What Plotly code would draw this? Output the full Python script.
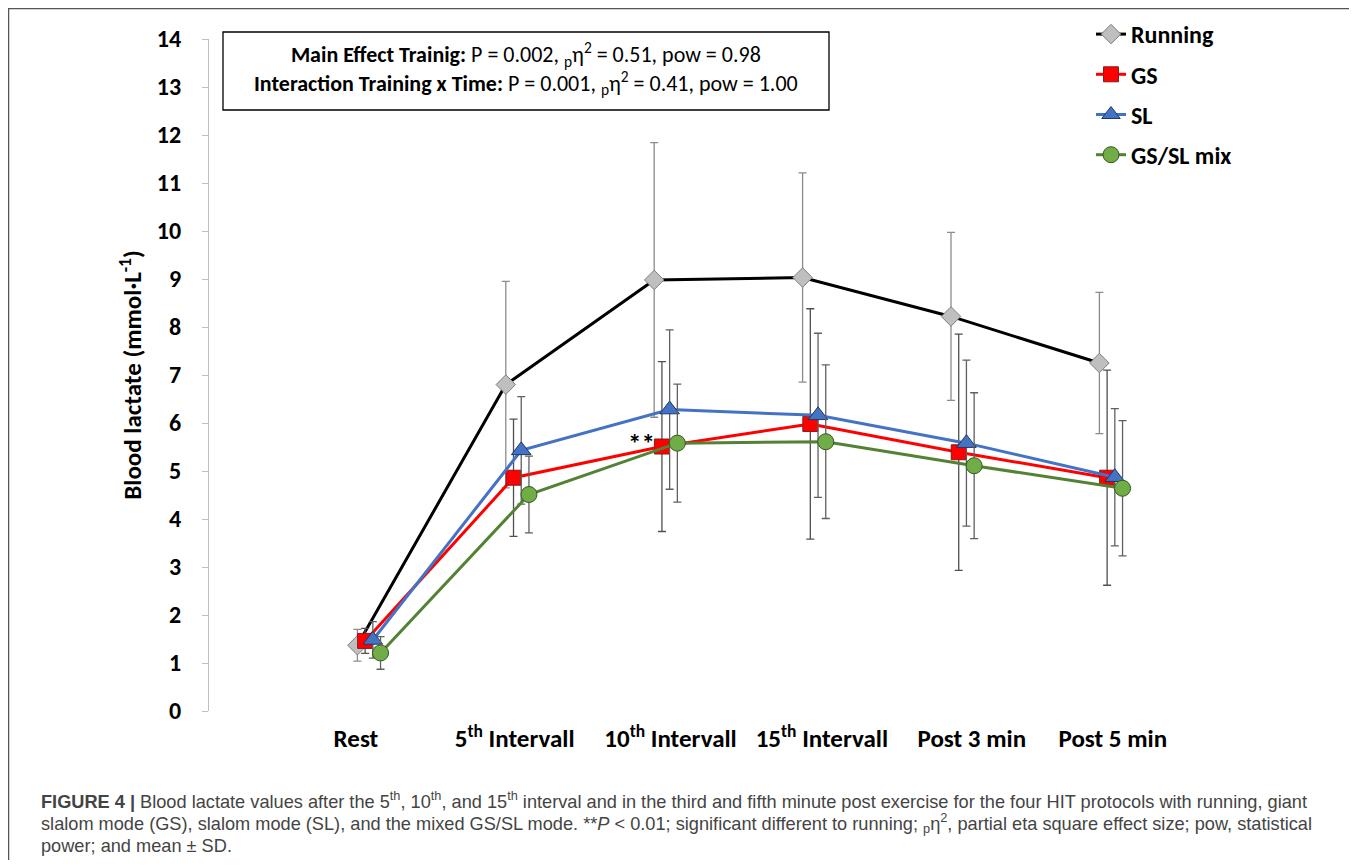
import plotly.graph_objects as go

categories = ["Rest", "5<sup>th</sup> Intervall", "10<sup>th</sup> Intervall", "15<sup>th</sup> Intervall", "Post 3 min", "Post 5 min"]

running_mean = [1.37, 6.80, 8.98, 9.03, 8.22, 7.25]
running_sd = [0.33, 2.15, 2.86, 2.18, 1.75, 1.47]

gs_mean = [1.46, 4.86, 5.51, 5.98, 5.39, 4.86]
gs_sd = [0.26, 1.22, 1.77, 2.40, 2.46, 2.24]

sl_mean = [1.48, 5.43, 6.28, 6.16, 5.58, 4.87]
sl_sd = [0.38, 1.12, 1.66, 1.71, 1.73, 1.43]

mix_mean = [1.21, 4.51, 5.58, 5.61, 5.11, 4.64]
mix_sd = [0.34, 0.80, 1.23, 1.60, 1.52, 1.41]

series_names = ["Running", "GS", "SL", "GS/SL mix"]

FONT = "Carlito, Calibri, Lato, sans-serif"

# layout geometry (figure pixels; page has an 8px body margin)
W, H = 1347, 852
ML, MT, MR, MB = 201, 31, 15, 149
PW = W - ML - MR
PH = H - MT - MB


def PX(page_x):
    return (page_x - 8 - ML) / PW


def PY(page_y):
    return (H - MB - (page_y - 8)) / PH


x0 = list(range(len(categories)))
offset = 0.052
# horizontal nudge of each category label (style only)
label_nudge = [-0.01, 0.06, 0.11, 0.13, 0.14, 0.09]

fig = go.Figure()

specs = [
    (running_mean, running_sd, "black", "diamond", "#BFBFBF", "#7F7F7F", 15, "#8C8C8C"),
    (gs_mean, gs_sd, "#FF0000", "square", "#FF0000", "#7F1F1F", 15, "#505050"),
    (sl_mean, sl_sd, "#4472C4", "triangle-up", "#4472C4", "#203864", 17, "#606060"),
    (mix_mean, mix_sd, "#548235", "circle", "#70AD47", "#385723", 16, "#606060"),
]

for i, (mean, sd, lc, sym, fc, oc, ms, ec) in enumerate(specs):
    xs = [v + i * offset for v in x0]
    fig.add_trace(go.Scatter(
        x=xs, y=mean, name=series_names[i], mode="lines+markers",
        line=dict(color=lc, width=3),
        marker=dict(symbol=sym, size=ms, color=fc, line=dict(color=oc, width=1)),
        error_y=dict(type="data", array=sd, visible=True, color=ec, thickness=1.3, width=4),
        legendgroup=series_names[i],
    ))

# "**" significance marker
fig.add_annotation(x=1.914, y=5.58, xref="x", yref="y", text="<b>**</b>", showarrow=False,
                   xanchor="center", yanchor="middle",
                   font=dict(family=FONT, size=27, color="black"))

# Stats box
fig.add_shape(type="rect", xref="paper", yref="paper", x0=PX(223), x1=PX(829), y0=PY(110), y1=PY(32),
              line=dict(color="black", width=1.3), fillcolor="white", layer="below")
fig.add_annotation(xref="paper", yref="paper", x=PX(526), y=PY(69), showarrow=False,
                   xanchor="center", yanchor="middle",
                   text="<b>Main Effect Trainig:</b> P = 0.002, <sub>p</sub>η<sup>2</sup> = 0.51, pow = 0.98<br>"
                        "<b>Interaction Training x Time:</b> P = 0.001, <sub>p</sub>η<sup>2</sup> = 0.41, pow = 1.00",
                   font=dict(family=FONT, size=22, color="black"), align="center")

# Figure border
fig.add_shape(type="rect", xref="paper", yref="paper", x0=PX(8.5), x1=PX(1354), y0=-0.3, y1=PY(8.5),
              line=dict(color="#555555", width=1.5), fillcolor="rgba(0,0,0,0)")

# Caption
cap_lines = [
    "<b>FIGURE 4 |</b> Blood lactate values after the 5<sup>th</sup>, 10<sup>th</sup>, and 15<sup>th</sup> interval and in the third and fifth minute post exercise for the four HIT protocols with running, giant",
    "slalom mode (GS), slalom mode (SL), and the mixed GS/SL mode. **<i>P</i> &lt; 0.01; significant different to running; <sub>p</sub>η<sup>2</sup>, partial eta square effect size; pow, statistical",
    "power; and mean ± SD.",
]
cap_y = [800, 823, 846]
for t, py in zip(cap_lines, cap_y):
    fig.add_annotation(xref="paper", yref="paper", x=PX(39), y=PY(py),
                       xanchor="left", yanchor="middle", showarrow=False, text=t, align="left",
                       font=dict(family="Liberation Sans, Arial, sans-serif", size=18.2, color="#444444"))

fig.update_layout(
    width=W, height=H,
    margin=dict(l=ML, r=MR, t=MT, b=MB, autoexpand=False),
    paper_bgcolor="white", plot_bgcolor="white",
    font=dict(family=FONT, color="black"),
    showlegend=True,
    legend=dict(x=PX(1091), y=PY(12), xanchor="left", yanchor="top",
                font=dict(family=FONT, size=24, color="black", weight="bold"),
                bgcolor="rgba(0,0,0,0)", tracegroupgap=6, itemwidth=30),
    xaxis=dict(range=[-1, -1 + PW / 148.4], tickmode="array",
               tickvals=[v + n for v, n in zip(x0, label_nudge)],
               ticktext=["<b>" + c + "</b>" for c in categories],
               showline=False, showgrid=False, zeroline=False,
               ticks="outside", ticklen=5, tickcolor="rgba(0,0,0,0)",
               tickfont=dict(family=FONT, size=25, color="black")),
    yaxis=dict(range=[0, 14], dtick=1, showgrid=False, zeroline=False,
               showline=True, linecolor="#BFBFBF", linewidth=1.3,
               ticks="outside", ticklen=6, tickcolor="#BFBFBF",
               ticklabelstandoff=16,
               tickfont=dict(family=FONT, size=24, color="black", weight="bold"),
               title=dict(text="<b>Blood lactate (mmol·L<sup>-1</sup>)</b>", standoff=7,
                          font=dict(family=FONT, size=25, color="black"))),
)

fig.write_html("out.html")
